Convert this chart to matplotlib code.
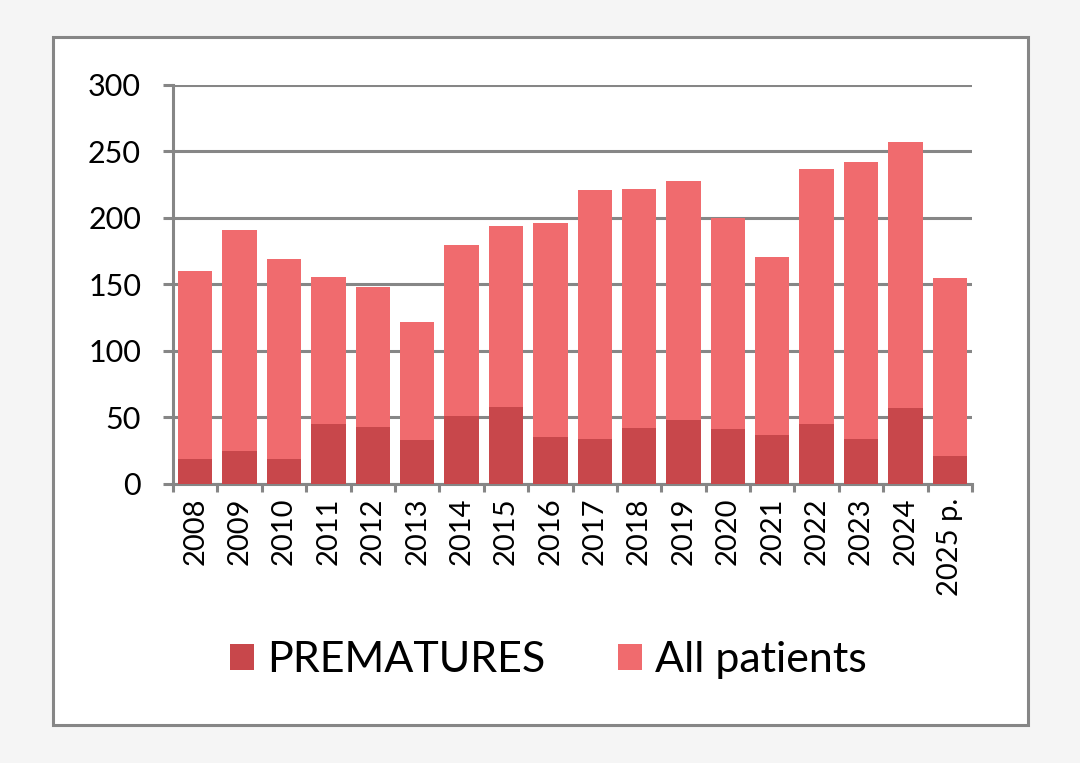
import numpy as np
import matplotlib
matplotlib.use('Agg')
import matplotlib.pyplot as plt
from matplotlib.patches import Rectangle

plt.rcParams['font.family'] = ['Lato', 'DejaVu Sans']

# Годы и значения
years = ['2008', '2009', '2010', '2011', '2012', '2013', '2014', '2015', '2016',
         '2017', '2018', '2019', '2020', '2021', '2022', '2023', '2024', '2025 p.']
all_patients = [160, 191, 169, 156, 148, 122, 180, 194, 196,
                221, 222, 228, 200, 171, 237, 242, 257, 155]
prematures = [19, 25, 19, 45, 43, 33, 51, 58, 35,
              34, 42, 48, 41, 37, 45, 34, 57, 21]

c_all = '#f06b6e'
c_prem = '#c8474b'
grey = '#868686'

fig = plt.figure(figsize=(10.8, 7.63), dpi=100)
fig.patch.set_facecolor('#f5f5f5')
# рамка вокруг графика
fig.patches.append(Rectangle((0.049, 0.05), 0.903, 0.9015, transform=fig.transFigure,
                             facecolor='white', edgecolor=grey, linewidth=2.2, zorder=-5))

ax = fig.add_axes([0.1602, 0.3657, 0.7398, 0.5229])
ax.set_facecolor('none')
x = np.arange(len(years))
b_prem = ax.bar(x, prematures, width=0.775, color=c_prem, zorder=3, label='PREMATURES')
b_all = ax.bar(x, all_patients, width=0.775, color=c_all, zorder=2, label='All patients')

ax.set_xlim(-0.5, len(years) - 0.5)
ax.set_ylim(0, 300)
ax.set_yticks(range(0, 301, 50))
ax.grid(axis='y', color=grey, linewidth=2.2, zorder=1)
ax.set_axisbelow(True)

for s in ['top', 'right']:
    ax.spines[s].set_visible(False)
for s in ['left', 'bottom']:
    ax.spines[s].set_color(grey)
    ax.spines[s].set_linewidth(2.2)

ax.tick_params(axis='y', length=7, width=2.2, color=grey, pad=16, labelsize=22)
ax.set_xticks(x)
ax.set_xticklabels(years, rotation=90, fontsize=21)
ax.tick_params(axis='x', which='major', length=0, pad=10)
ax.set_xticks(np.arange(-0.5, len(years)), minor=True)
ax.tick_params(axis='x', which='minor', length=6, width=2.2, color=grey, direction='out')

fig.legend(handles=[b_prem, b_all], loc='center', bbox_to_anchor=(0.508, 0.135),
           ncol=2, frameon=False, fontsize=31, handlelength=0.55, handleheight=0.55,
           handletextpad=0.3, columnspacing=1.7)

plt.savefig('out.png', dpi=100, facecolor=fig.get_facecolor())
